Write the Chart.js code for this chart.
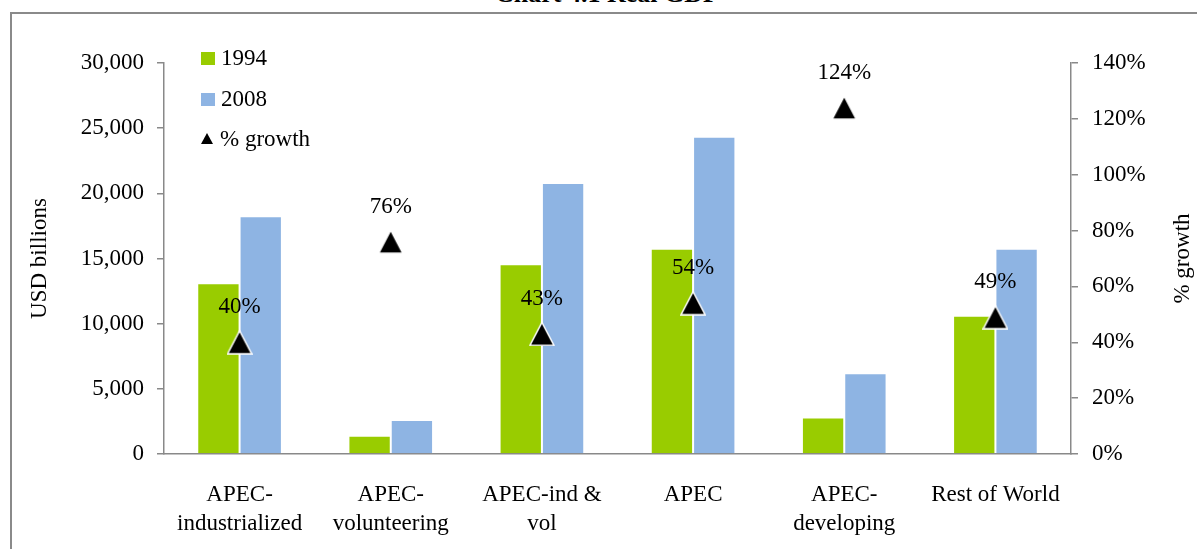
<!DOCTYPE html>
<html>
<head>
<meta charset="utf-8">
<script src="https://cdn.jsdelivr.net/npm/chart.js@4.4.0/dist/chart.umd.min.js"></script>
<style>
    body { margin: 0; background: #fff; overflow: hidden; }
    #wrap { position: relative; width: 1197px; height: 549px; overflow: hidden; }
    #frame { position: absolute; left: 10px; top: 12px; width: 1300px; height: 700px; border: 2px solid #8a8a8a; box-sizing: border-box; }
    #title { position: absolute; left: 0; width: 1214px; top: -21px; line-height: 26px; text-align: center; font: bold 26px "Liberation Serif", serif; color: #000; }
    canvas { position: absolute; left: 0; top: 0; }
    .leg { position: absolute; left: 201px; font: 23px "Liberation Serif", serif; color: #000; height: 26px; line-height: 26px; white-space: nowrap; }
    .leg .sw { display: inline-block; width: 14px; height: 13px; margin-right: 6px; vertical-align: 0px; }
    .leg .tri { display: inline-block; width: 0; height: 0; border-left: 6px solid transparent; border-right: 6px solid transparent; border-bottom: 11px solid #000; margin-right: 7px; vertical-align: 2px; }
</style>
</head>
<body>
<div id="wrap">
    <div id="frame"></div>
    <div id="title">Chart 4.1 Real GDP</div>
    <canvas id="gdpChart" width="1197" height="549"></canvas>
    <div id="legend"></div>
</div>
<script>
// data
const categories = [
    ['APEC-', 'industrialized'],
    ['APEC-', 'volunteering'],
    ['APEC-ind &', 'vol'],
    'APEC',
    ['APEC-', 'developing'],
    'Rest of World'
];
const gdp1994 = [13100, 1400, 14550, 15750, 2800, 10600];
const gdp2008 = [18250, 2600, 20800, 24350, 6200, 15750];
const growthPct = [40, 76, 43, 54, 124, 49];
const leftTicks = [0, 5000, 10000, 15000, 20000, 25000, 30000];
const rightTicks = [0, 20, 40, 60, 80, 100, 120, 140];

const GREEN = '#99cc00';
const BLUE = '#8eb4e3';
const AXIS = '#898989';
const serif = '"Liberation Serif", "Times New Roman", serif';
const FONT_SIZE = 23;

// triangle marker whose box is centred on the value, like the original
function makeTriangle() {
    const c = document.createElement('canvas');
    c.width = 26;
    c.height = 25;
    const g = c.getContext('2d');
    g.beginPath();
    g.moveTo(13, 1);
    g.lineTo(25, 24);
    g.lineTo(1, 24);
    g.closePath();
    g.fillStyle = '#000';
    g.fill();
    g.lineWidth = 1.5;
    g.strokeStyle = '#fff';
    g.stroke();
    return c;
}

// percent labels above the triangles and the right axis title
const growthLabels = {
    id: 'growthLabels',
    afterDatasetsDraw(chart) {
        const meta = chart.getDatasetMeta(2);
        const ctx = chart.ctx;
        ctx.save();
        ctx.font = FONT_SIZE + 'px ' + serif;
        ctx.fillStyle = '#000';
        ctx.textAlign = 'center';
        ctx.textBaseline = 'middle';
        meta.data.forEach((pt, i) => {
            ctx.fillText(growthPct[i] + '%', pt.x, pt.y - 35);
        });
        const area = chart.chartArea;
        ctx.translate(1183, (area.top + area.bottom) / 2);
        ctx.rotate(-Math.PI / 2);
        ctx.fillText('% growth', 0, 0);
        ctx.restore();
    }
};

const ctx = document.getElementById('gdpChart').getContext('2d');
new Chart(ctx, {
    data: {
        labels: categories,
        datasets: [{
            type: 'bar',
            label: '1994',
            data: gdp1994,
            backgroundColor: GREEN,
            borderColor: 'rgba(255,255,255,0.6)',
            borderWidth: 1,
            categoryPercentage: 0.56,
            barPercentage: 1,
            yAxisID: 'y',
            order: 1
        }, {
            type: 'bar',
            label: '2008',
            data: gdp2008,
            backgroundColor: BLUE,
            borderColor: 'rgba(255,255,255,0.6)',
            borderWidth: 1,
            categoryPercentage: 0.56,
            barPercentage: 1,
            yAxisID: 'y',
            order: 1
        }, {
            type: 'line',
            label: '% growth',
            data: growthPct,
            showLine: false,
            pointStyle: makeTriangle(),
            pointRadius: 13,
            yAxisID: 'y1',
            order: 0
        }]
    },
    options: {
        responsive: false,
        animation: false,
        layout: { padding: { left: 24, right: 0, top: 63, bottom: 0 } },
        plugins: {
            legend: { display: false },
            tooltip: { enabled: false }
        },
        scales: {
            x: {
                grid: { display: false },
                border: { display: true, color: AXIS, width: 1.5 },
                ticks: { color: '#000', padding: 18, maxRotation: 0, autoSkip: false, font: { family: serif, size: FONT_SIZE, lineHeight: 1.26 } },
                afterFit: s => { s.height = 95; }
            },
            y: {
                position: 'left',
                min: 0,
                max: 30000,
                afterBuildTicks: s => { s.ticks = leftTicks.map(v => ({ value: v })); },
                grid: { drawOnChartArea: false, drawTicks: true, tickLength: 7, color: AXIS, lineWidth: 1.5 },
                border: { display: true, color: AXIS, width: 1.5 },
                ticks: { color: '#000', padding: 13, font: { family: serif, size: FONT_SIZE }, callback: v => v.toLocaleString('en-US') },
                title: { display: true, text: 'USD billions', color: '#000', font: { family: serif, size: FONT_SIZE }, padding: { top: 2, bottom: 0 } },
                afterFit: s => { s.width = 140; }
            },
            y1: {
                position: 'right',
                min: 0,
                max: 140,
                afterBuildTicks: s => { s.ticks = rightTicks.map(v => ({ value: v })); },
                grid: { drawOnChartArea: false, drawTicks: true, tickLength: 7, color: AXIS, lineWidth: 1.5 },
                border: { display: true, color: AXIS, width: 1.5 },
                ticks: { color: '#000', padding: 14, font: { family: serif, size: FONT_SIZE }, callback: v => v + '%' },
                afterFit: s => { s.width = 126; }
            }
        }
    },
    plugins: [growthLabels]
});

// legend, top-left inside the plot
const legendItems = [
    { text: '1994', kind: 'box', color: GREEN, top: 45 },
    { text: '2008', kind: 'box', color: BLUE, top: 86 },
    { text: '% growth', kind: 'tri', color: '#000', top: 126 }
];
const legendEl = document.getElementById('legend');
legendItems.forEach(item => {
    const div = document.createElement('div');
    div.className = 'leg';
    div.style.top = item.top + 'px';
    const mark = item.kind === 'box'
        ? `<span class="sw" style="background:${item.color}"></span>`
        : '<span class="tri"></span>';
    div.innerHTML = mark + item.text;
    legendEl.appendChild(div);
});
</script>
</body>
</html>
